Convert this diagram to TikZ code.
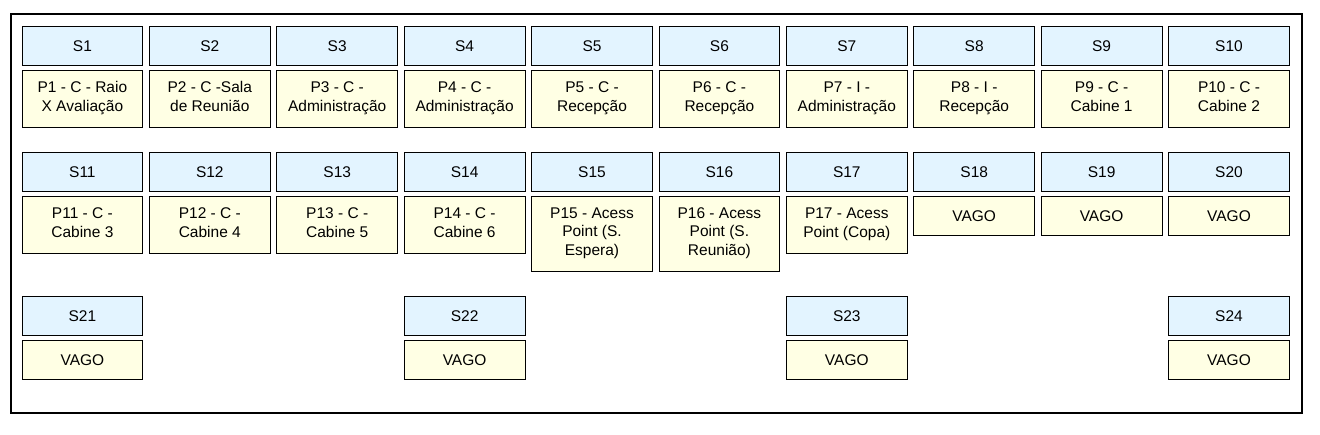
\documentclass[tikz,border=0pt]{standalone}
\usepackage{fontspec}
\setmainfont{Liberation Sans}
\definecolor{slotblue}{RGB}{227,244,255}
\definecolor{portyellow}{RGB}{255,255,228}
\newcommand\slotstrut{\rule{0pt}{16.5pt}}
\tikzset{
  slot/.style={draw, line width=1pt, fill=slotblue, minimum width=120.8pt, minimum height=39pt,
    anchor=north, inner sep=1pt, font=\fontsize{15.5}{18.6}\selectfont,
    execute at begin node=\slotstrut, execute at end node=\strut},
  port/.style={slot, fill=portyellow, align=center},
  porttwo/.style={port, minimum height=57.5pt},
  portthree/.style={port, minimum height=75.5pt},
}

\begin{document}
\begin{tikzpicture}[x=1pt, y=-1pt]
\useasboundingbox (0,0) rectangle (1320,435);
\node[draw, line width=2pt, minimum width=1291pt, minimum height=399pt, anchor=north west] (rack) at (10,13) {};
% row 1
\node[slot] (s1) at (82.4,26) {S1};
\node[slot] (s2) at (209.8,26) {S2};
\node[slot] (s3) at (337.2,26) {S3};
\node[slot] (s4) at (464.6,26) {S4};
\node[slot] (s5) at (592.0,26) {S5};
\node[slot] (s6) at (719.4,26) {S6};
\node[slot] (s7) at (846.8,26) {S7};
\node[slot] (s8) at (974.2,26) {S8};
\node[slot] (s9) at (1101.6,26) {S9};
\node[slot] (s10) at (1229.0,26) {S10};
\node[porttwo] (p1) at (82.4,70) {P1 - C - Raio\\X Avaliação};
\node[porttwo] (p2) at (209.8,70) {P2 - C -Sala\\de Reunião};
\node[porttwo] (p3) at (337.2,70) {P3 - C -\\Administração};
\node[porttwo] (p4) at (464.6,70) {P4 - C -\\Administração};
\node[porttwo] (p5) at (592.0,70) {P5 - C -\\Recepção};
\node[porttwo] (p6) at (719.4,70) {P6 - C -\\Recepção};
\node[porttwo] (p7) at (846.8,70) {P7 - I -\\Administração};
\node[porttwo] (p8) at (974.2,70) {P8 - I -\\Recepção};
\node[porttwo] (p9) at (1101.6,70) {P9 - C -\\Cabine 1};
\node[porttwo] (p10) at (1229.0,70) {P10 - C -\\Cabine 2};
% row 2
\node[slot] (s11) at (82.4,152.5) {S11};
\node[slot] (s12) at (209.8,152.5) {S12};
\node[slot] (s13) at (337.2,152.5) {S13};
\node[slot] (s14) at (464.6,152.5) {S14};
\node[slot] (s15) at (592.0,152.5) {S15};
\node[slot] (s16) at (719.4,152.5) {S16};
\node[slot] (s17) at (846.8,152.5) {S17};
\node[slot] (s18) at (974.2,152.5) {S18};
\node[slot] (s19) at (1101.6,152.5) {S19};
\node[slot] (s20) at (1229.0,152.5) {S20};
\node[porttwo] (p11) at (82.4,196) {P11 - C -\\Cabine 3};
\node[porttwo] (p12) at (209.8,196) {P12 - C -\\Cabine 4};
\node[porttwo] (p13) at (337.2,196) {P13 - C -\\Cabine 5};
\node[porttwo] (p14) at (464.6,196) {P14 - C -\\Cabine 6};
\node[portthree] (p15) at (592.0,196) {P15 - Acess\\Point (S.\\Espera)};
\node[portthree] (p16) at (719.4,196) {P16 - Acess\\Point (S.\\Reunião)};
\node[porttwo] (p17) at (846.8,196) {P17 - Acess\\Point (Copa)};
\node[port] (p18) at (974.2,196) {VAGO};
\node[port] (p19) at (1101.6,196) {VAGO};
\node[port] (p20) at (1229.0,196) {VAGO};
% row 3
\node[slot] (s21) at (82.4,296) {S21};
\node[slot] (s22) at (464.6,296) {S22};
\node[slot] (s23) at (846.8,296) {S23};
\node[slot] (s24) at (1229.0,296) {S24};
\node[port] (p21) at (82.4,340.5) {VAGO};
\node[port] (p22) at (464.6,340.5) {VAGO};
\node[port] (p23) at (846.8,340.5) {VAGO};
\node[port] (p24) at (1229.0,340.5) {VAGO};
\end{tikzpicture}
\end{document}
